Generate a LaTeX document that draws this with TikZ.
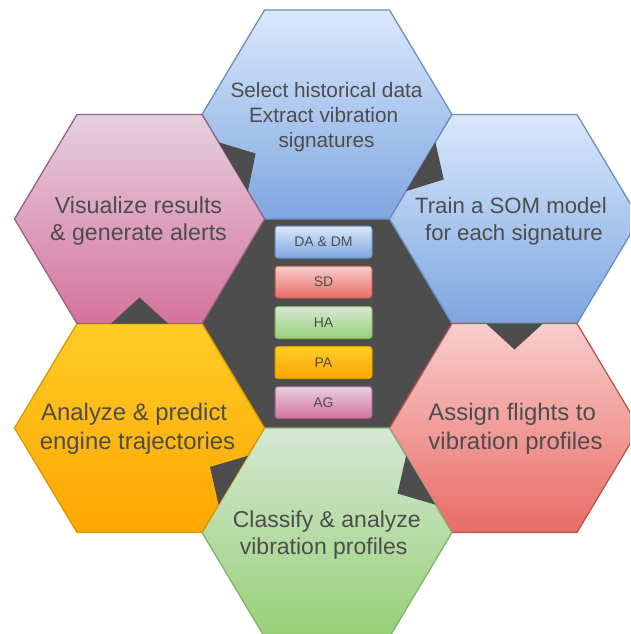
\documentclass[tikz,border=0pt]{standalone}
\usepackage{fontspec}
\setmainfont{Liberation Sans}
\definecolor{txt}{HTML}{4D4D4D}
\definecolor{dark}{HTML}{4D4D4D}
\definecolor{bluetop}{HTML}{DAE8FC}
\definecolor{bluebot}{HTML}{7EA6E0}
\definecolor{bluedraw}{HTML}{6C8EBF}
\definecolor{redtop}{HTML}{F8CECC}
\definecolor{redbot}{HTML}{EA6B66}
\definecolor{reddraw}{HTML}{B85450}
\definecolor{greentop}{HTML}{D5E8D4}
\definecolor{greenbot}{HTML}{97D077}
\definecolor{greendraw}{HTML}{82B366}
\definecolor{orangetop}{HTML}{FFCD28}
\definecolor{orangebot}{HTML}{FFA500}
\definecolor{orangedraw}{HTML}{D79B00}
\definecolor{pinktop}{HTML}{E6D0DE}
\definecolor{pinkbot}{HTML}{D5739D}
\definecolor{pinkdraw}{HTML}{996185}
\newcommand{\hexat}[3]{\path[#1,shift={(#2,#3)}] (-125,0) -- (-62.5,-104.5) -- (62.5,-104.5) -- (125,0) -- (62.5,104.5) -- (-62.5,104.5) -- cycle;}
\newcommand{\tsp}{\kern.278em}
\begin{document}
\begin{tikzpicture}[x=1pt,y=-1pt,
  hexblue/.style={draw=bluedraw,line width=1.3pt,top color=bluetop,bottom color=bluebot},
  hexred/.style={draw=reddraw,line width=1.3pt,top color=redtop,bottom color=redbot},
  hexgreen/.style={draw=greendraw,line width=1.3pt,top color=greentop,bottom color=greenbot},
  hexorange/.style={draw=orangedraw,line width=1.3pt,top color=orangetop,bottom color=orangebot},
  hexpink/.style={draw=pinkdraw,line width=1.3pt,top color=pinktop,bottom color=pinkbot},
  hexdark/.style={fill=dark},
  notch/.style={fill=dark},
  hextext/.style={align=center,text=txt,inner sep=0pt},
  smallbox/.style={rounded corners=3pt,line width=1pt,minimum width=97pt,minimum height=32pt,inner sep=0pt,text=txt,font=\fontsize{14}{16}\selectfont},
  sbblue/.style={smallbox,draw=bluedraw,top color=bluetop,bottom color=bluebot},
  sbred/.style={smallbox,draw=reddraw,top color=redtop,bottom color=redbot},
  sbgreen/.style={smallbox,draw=greendraw,top color=greentop,bottom color=greenbot},
  sborange/.style={smallbox,draw=orangedraw,top color=orangetop,bottom color=orangebot},
  sbpink/.style={smallbox,draw=pinkdraw,top color=pinktop,bottom color=pinkbot}]
\useasboundingbox (0,0) rectangle (630,634);
\clip (0,0) rectangle (630,634);
% central hexagon
\hexat{hexdark}{327}{323.5}
% outer hexagons
\hexat{hexblue}{327}{114.5}
\hexat{hexblue}{514.5}{219}
\hexat{hexred}{514.5}{428}
\hexat{hexgreen}{327}{532.5}
\hexat{hexorange}{139.5}{428}
\hexat{hexpink}{139.5}{219}
% notches (arrow heads)
\fill[notch] (406.1,191.2) -- (435.4,142.3) -- (443.8,179.5) -- cycle;
\fill[notch] (486,323.5) -- (543,323.5) -- (514.5,349.5) -- cycle;
\fill[notch] (406.1,455.8) -- (435.4,504.7) -- (397.5,493.5) -- cycle;
\fill[notch] (247.9,455.8) -- (218.6,504.7) -- (210,467) -- cycle;
\fill[notch] (111,323.5) -- (168,323.5) -- (139.5,297.5) -- cycle;
\fill[notch] (218.6,142.3) -- (247.9,191.2) -- (255.6,153.5) -- cycle;
% texts
\node[hextext,font=\fontsize{20.8}{25}\selectfont] (t1) at (326.5,117.5) {Select historical data\\Extract vibration\tsp\\signatures};
\node[hextext,font=\fontsize{22.2}{26.6}\selectfont] (t2) at (514,221) {Train a SOM model\tsp\\for each signature};
\node[hextext,font=\fontsize{23.9}{28.7}\selectfont] (t3) at (515.5,429) {Assign flights to\tsp\\vibration profiles};
\node[hextext,font=\fontsize{23}{26.9}\selectfont] (t4) at (326.8,535) {Classify \& analyze\\vibration profiles\tsp};
\node[hextext,font=\fontsize{23.9}{29}\selectfont] (t5) at (137.5,429) {Analyze \& predict\tsp\\engine trajectories};
\node[hextext,font=\fontsize{23.2}{27.8}\selectfont] (t6) at (138.5,221) {Visualize results\\\& generate alerts};
% legend boxes
\node[sbblue] (b1) at (323.5,242) {DA \& DM};
\node[sbred] (b2) at (323.5,282) {SD};
\node[sbgreen] (b3) at (323.5,322.5) {HA};
\node[sborange] (b4) at (323.5,362.5) {PA};
\node[sbpink] (b5) at (323.5,402.5) {AG};
\end{tikzpicture}
\end{document}
